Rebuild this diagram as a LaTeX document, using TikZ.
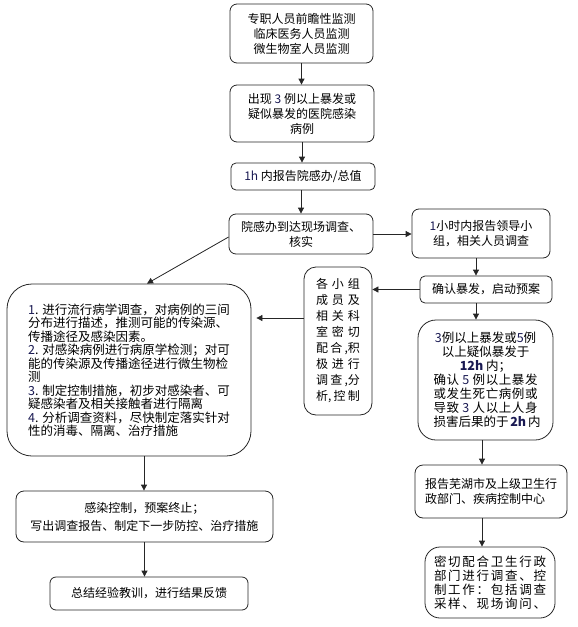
\documentclass[tikz,border=0pt]{standalone}
\usepackage{fontspec}
\setmainfont{Noto Sans CJK SC}
\usetikzlibrary{arrows.meta}
\definecolor{numc}{rgb}{0.1,0.1,0.32}
\newcommand\nm[1]{\textcolor{numc}{#1}}
\newcommand\spr[2]{\makebox[#1][s]{#2}}
\begin{document}
\begin{tikzpicture}[x=1pt,y=-1pt,
  box/.style={draw=black!85, line width=0.8pt, rounded corners=#1, inner sep=0pt,
    align=center, font=\fontsize{12}{15}\selectfont},
  box/.default=7pt,
  arr/.style={draw=black!85, line width=0.8pt, -{Triangle[length=6pt,width=6pt]}}]
\useasboundingbox (0,0) rectangle (578,627);

\node[box, minimum width=143pt, minimum height=59pt] (b1) at (301.5,33.5)
  {专职人员前瞻性监测\\临床医务人员监测\\微生物室人员监测};
\node[box, minimum width=144pt, minimum height=57pt] (b2) at (302,113.5)
  {出现 \nm{3} 例以上暴发或\\疑似暴发的医院感染\\病例};
\node[box=5pt, minimum width=144pt, minimum height=27pt] (b3) at (303,176.5)
  {\nm{1h} 内报告院感办/总值};
\node[box, minimum width=144pt, minimum height=40pt] (b4) at (301,234)
  {院感办到达现场调查、\\核实};
\node[box, minimum width=138pt, minimum height=49pt] (b5) at (481,233.5)
  {\nm{1}小时内报告领导小\\组，相关人员调查};
\node[box=5pt, minimum width=132pt, minimum height=27pt] (b6) at (486,289.5)
  {确认暴发，启动预案};
\node[box=12pt, minimum width=68pt, minimum height=148pt, font=\fontsize{12}{16}\selectfont] (b7) at (338,341)
  {\spr{44pt}{各\hfill 小\hfill 组}\\\spr{44pt}{成\hfill 员\hfill 及}\\\spr{44pt}{相\hfill 关\hfill 科}\\\spr{44pt}{室\hfill 密\hfill 切}\\\spr{44pt}{配\hfill 合\hfill ,积}\\\spr{44pt}{极\hfill 进\hfill 行}\\\spr{44pt}{调\hfill 查\hfill ,分}\\\spr{44pt}{析,\hfill 控\hfill 制}};
\node[box=18pt, minimum width=135pt, minimum height=120pt, font=\fontsize{12.5}{14}\selectfont] (b8) at (485.5,380)
  {\nm{3}例以上暴发或\nm{5}例\\以上疑似暴发于\\\textbf{\nm{12h}} 内；\\
   \spr{104pt}{确\hfil 认\hfil\ \nm{5}\hfil\ 例\hfil 以\hfil 上\hfil 暴\hfil 发}\\
   \spr{104pt}{或\hfil 发\hfil 生\hfil 死\hfil 亡\hfil 病\hfil 例\hfil 或}\\
   \spr{104pt}{导\hfil 致\hfil\ \nm{3}\hfil\ 人\hfil 以\hfil 上\hfil 人\hfil 身}\\
   \spr{104pt}{损\hfil 害\hfil 后\hfil 果\hfil 的\hfil 于\hfil\ \textbf{\nm{2h}}\hfil\ 内}};
\node[box=25pt, minimum width=244pt, minimum height=172pt, align=left, font=\fontsize{12.5}{13.5}\selectfont] (big) at (129,370)
  {\nm{1}. 进行流行病学调查，对病例的三间\\分布进行描述，推测可能的传染源、\\传播途径及感染因素。\\\nm{2}. 对感染病例进行病原学检测；对可\\能的传染源及传播途径进行微生物检\\测\\\nm{3}. 制定控制措施，初步对感染者、可\\疑感染者及相关接触者进行隔离\\\nm{4}. 分析调查资料，尽快制定落实针对\\性的消毒、隔离、治疗措施};
\node[box=8pt, minimum width=257pt, minimum height=51pt, font=\fontsize{12}{18}\selectfont] (b9) at (144.5,516.5)
  {感染控制，预案终止；\\写出调查报告、制定下一步防控、治疗措施};
\node[box=6pt, minimum width=198pt, minimum height=33pt] (b10) at (149,593.5)
  {总结经验教训，进行结果反馈};
\node[box=8pt, minimum width=152pt, minimum height=53pt, align=left] (b11) at (491,491.5)
  {报告芜湖市及上级卫生行\\政部门、疾病控制中心};
\node[box=15pt, minimum width=130pt, minimum height=71pt, font=\fontsize{12.5}{14}\selectfont] (b12) at (490,582.5)
  {\spr{112pt}{密\hfil 切\hfil 配\hfil 合\hfil 卫\hfil 生\hfil 行\hfil 政}\\
   \spr{112pt}{部\hfil 门\hfil 进\hfil 行\hfil 调\hfil 查\hfil 、\hfil 控}\\
   \spr{112pt}{制\hfil 工\hfil 作\hfil ：\hfil 包\hfil 括\hfil 调\hfil 查}\\
   \spr{112pt}{采\hfil 样\hfil 、\hfil 现\hfil 场\hfil 询\hfil 问\hfil 、}};

\draw[arr] (b1.south) -- (b1.south |- b2.north);
\draw[arr] (b2.south) -- (b2.south |- b3.north);
\draw[arr] ([xshift=-2pt]b3.south) -- ([xshift=-2pt]b3.south |- b4.north);
\draw[arr] (b4.east) -- (b4.east -| b5.west);
\draw[arr] ([xshift=-5pt]b5.south) -- ([xshift=-5pt]b5.south |- b6.north);
\draw[arr] (b6.west) -- (b6.west -| b7.east);
\draw[arr] ([xshift=-10pt]b6.south) -- ([xshift=-10pt]b6.south |- b8.north);
\draw[arr] ([xshift=-3.5pt]b8.south) -- ([xshift=-3.5pt]b8.south |- b11.north);
\draw[arr] ([xshift=-9pt]b11.south) -- ([xshift=-9pt]b11.south |- b12.north);
\draw[arr] ([yshift=-3pt]b4.west) -- ([xshift=18pt]big.north);
\draw[arr, shorten >=5pt] ([yshift=23pt]b7.west) -- ([yshift=23pt]b7.west -| big.east);
\draw[arr] ([xshift=15pt]big.south) -- ([xshift=15pt]big.south |- b9.north);
\draw[arr] (b9.south) -- (b9.south |- b10.north);
\end{tikzpicture}
\end{document}
